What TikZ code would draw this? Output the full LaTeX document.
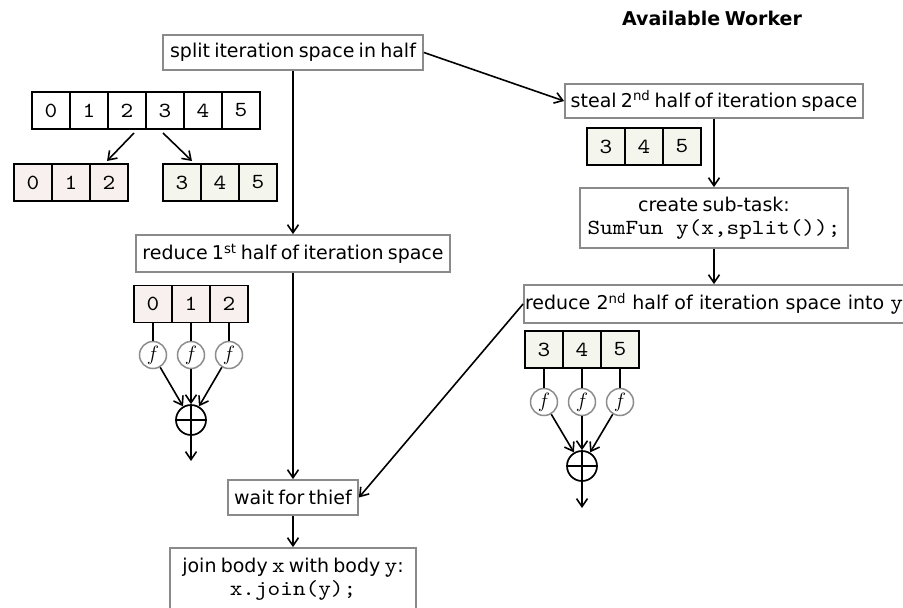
\documentclass[tikz,border=0pt]{standalone}
\usepackage{fontspec}
\setmainfont[WordSpace=0.7]{DejaVu Sans}
\setmonofont[FakeStretch=1.12]{lmmono10-regular.otf}
\usetikzlibrary{arrows.meta}

\definecolor{boxgray}{HTML}{8A8A8A}
\definecolor{lowfill}{HTML}{F7F0EE}
\definecolor{highfill}{HTML}{F4F5EC}
\definecolor{fgray}{HTML}{8C8C8C}

\newcommand{\code}[1]{{\fontsize{21.5}{23}\ttfamily #1}}

\tikzset{
  txt/.style={font=\fontsize{19}{23}\selectfont},
  stepbox/.style={txt, draw=boxgray, line width=1.8pt, fill=white,
    inner sep=1pt, align=center},
  cell/.style={draw=black, line width=1.7pt, minimum width=38pt,
    minimum height=37pt, inner sep=0pt, font=\fontsize{21.5}{21.5}\ttfamily},
  fnode/.style={circle, draw=fgray, line width=1.5pt, minimum size=27pt,
    inner sep=0pt, font=\fontsize{21}{21}\selectfont},
  plusnode/.style={circle, draw=black, line width=1.7pt, minimum size=30pt,
    inner sep=0pt, path picture={
      \draw[line width=1.5pt]
        (path picture bounding box.north) -- (path picture bounding box.south)
        (path picture bounding box.west) -- (path picture bounding box.east);}},
  flow/.style={line width=1.6pt, -{Straight Barb[length=8pt, width=11pt]}},
  link/.style={line width=1.6pt},
}

\begin{document}
\begin{tikzpicture}[x=1pt, y=-1pt]
\useasboundingbox (0,0) rectangle (903,608);
\clip (0,0) rectangle (903,608);

% header of the right column
\node[font=\fontsize{19}{23}\selectfont\bfseries] (head) at (712,18) {Available Worker};

% main thread
\node[stepbox, minimum width=260pt, minimum height=35pt] (split) at (293,52.5)
  {split iteration space in half};
\node[stepbox, minimum width=314pt, minimum height=37pt] (red1) at (293,253.5)
  {reduce 1\textsuperscript{st} half of iteration space};
\node[stepbox, minimum width=130pt, minimum height=35pt] (wait) at (293,497.5)
  {wait for thief};
\node[stepbox, minimum width=246pt, minimum height=62pt] (join) at (293,579)
  {join body \code{x} with body \code{y}:\\\code{x.join(y);}};

% thief thread
\node[stepbox, minimum width=298pt, minimum height=34pt] (steal) at (714,101)
  {steal 2\textsuperscript{nd} half of iteration space};
\node[stepbox, minimum width=268pt, minimum height=60pt] (create) at (714,218)
  {create sub-task:\\\code{SumFun y(x,split());}};
\node[stepbox, minimum height=38pt, text width=390pt, align=left]
  (red2) at (720,304)
  {reduce 2\textsuperscript{nd} half of iteration space into \code{y}};

% whole iteration space and its two halves
\foreach \v [count=\i] in {0,...,5}
  \node[cell] (all\v) at ({51+38*(\i-1)},110.5) {\v};
\foreach \v [count=\i] in {0,1,2}
  \node[cell, fill=lowfill] (lo\v) at ({33+38*(\i-1)},182.5) {\v};
\foreach \v [count=\i] in {3,4,5}
  \node[cell, fill=highfill] (hi\v) at ({182+38*(\i-1)},182.5) {\v};
\coordinate (spl) at (134,133);
\coordinate (spr) at (163,133);
\coordinate (tol) at (107,161);
\coordinate (tor) at (192,161);
\draw[flow] (spl) -- (tol);
\draw[flow] (spr) -- (tor);

% stolen half
\foreach \v [count=\i] in {3,4,5}
  \node[cell, fill=highfill] (st\v) at ({606+38*(\i-1)},146.5) {\v};

% reduction of the first half
\foreach \v [count=\i] in {0,1,2} {
  \node[cell, fill=lowfill] (ra\v) at ({153+38*(\i-1)},304) {\v};
  \node[fnode] (fa\v) at ({153+38*(\i-1)},355) {$f$};
  \draw[link] (ra\v.south) -- (fa\v.north);
}
\node[plusnode] (suma) at (191,420) {};
\coordinate (outa) at (191,461);
\foreach \v in {0,1,2} \draw[flow] (fa\v) -- (suma);
\draw[flow] (suma) -- (outa);

% reduction of the second half
\foreach \v [count=\i] in {3,4,5} {
  \node[cell, fill=highfill] (rb\v) at ({544+38*(\i-1)},349.5) {\v};
  \node[fnode] (fb\v) at ({544+38*(\i-1)},402) {$f$};
  \draw[link] (rb\v.south) -- (fb\v.north);
}
\node[plusnode] (sumb) at (582,466) {};
\coordinate (outb) at (582,508);
\foreach \v in {3,4,5} \draw[flow] (fb\v) -- (sumb);
\draw[flow] (sumb) -- (outb);

% control flow
\draw[flow] (split.south) -- (red1.north);
\draw[flow] (red1.south) -- (wait.north);
\draw[flow] (wait.south) -- (join.north);
\draw[flow] (split.east) -- (steal.west);
\draw[flow] (steal.south) -- (create.north);
\draw[flow] (create.south) -- (create.south |- red2.north);
\draw[flow] (red2.west) -- (wait.east);
\end{tikzpicture}
\end{document}
